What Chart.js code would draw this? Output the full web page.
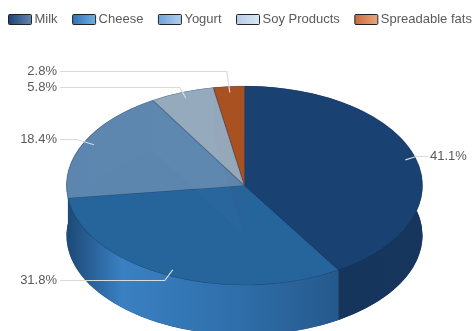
<!DOCTYPE html>
<html>
<head>
<meta charset="utf-8">
<style>
html,body{margin:0;padding:0;background:#fff}
#wrap{position:relative;width:476px;height:331px;overflow:hidden}
</style>
<script src="https://cdn.jsdelivr.net/npm/chart.js@4"></script>
</head>
<body>
<div id="wrap"><canvas id="c" width="476" height="331"></canvas></div>
<script>
const categories = ['Milk', 'Cheese', 'Yogurt', 'Soy Products', 'Spreadable fats'];
const shares = [41.1, 31.8, 18.4, 5.8, 2.8];

const faceColors = ['rgba(25,65,113,0.98)', 'rgba(39,101,157,0.98)', 'rgba(94,136,175,0.98)', 'rgba(150,170,190,0.98)', 'rgba(170,82,34,0.98)'];
const wallStops = [
  [[0, '#14335a'], [1, '#16365e']],
  [[0, '#1d4a78'], [0.2, '#3a80c2'], [0.6, '#2f70ac'], [1, '#25598c']],
  [[0, '#1d4a78'], [1, '#4d7aa4']],
  [[0, '#6d8299'], [1, '#7d92a8']],
  [[0, '#7c3d1a'], [1, '#8c4620']]
];
const legendStops = [
  ['#1c4374', '#6288b0'],
  ['#2f73b5', '#72ade0'],
  ['#6fa3d8', '#b0d0ee'],
  ['#b6cde6', '#d8e6f4'],
  ['#c96c3c', '#eaa67c']
];
const labelRows = [156, 280, 139, 87, 71];
const elbowRuns = [11, 8, 17, 6, 3];

const FONT = '13px "Liberation Sans", Arial, sans-serif';
const TEXT = '#5a5a5a';
const LEADER = '#dadada';

// Squashes the flat pie into an ellipse and extrudes it downwards.
const tiltedPie = {
  id: 'tiltedPie',
  beforeDatasetsDraw(chart, args, opts) {
    const arcs = chart.getDatasetMeta(0).data;
    const { ctx } = chart;
    const first = arcs[0];
    const cx = first.x, cy = first.y, R = first.outerRadius;
    ctx.save();
    arcs.forEach((arc, i) => {
      // floor of the slice, faintly visible through the translucent lid
      ctx.beginPath();
      ctx.moveTo(cx, cy + opts.depth);
      ctx.ellipse(cx, cy + opts.depth, opts.rx, opts.ry, 0, arc.startAngle, arc.endAngle);
      ctx.closePath();
      ctx.fillStyle = wallStops[i][0][1];
      ctx.fill();
    });
    arcs.forEach((arc, i) => {
      // curved outer wall of the slice
      const g = ctx.createLinearGradient(
        cx + opts.rx * Math.min(Math.cos(arc.startAngle), Math.cos(arc.endAngle), arc.endAngle > Math.PI && arc.startAngle < Math.PI ? -1 : 1), 0,
        cx + opts.rx * Math.max(Math.cos(arc.startAngle), Math.cos(arc.endAngle), arc.startAngle < 0 && arc.endAngle > 0 ? 1 : -1), 0);
      wallStops[i].forEach(s => g.addColorStop(s[0], s[1]));
      ctx.beginPath();
      ctx.ellipse(cx, cy, opts.rx, opts.ry, 0, arc.startAngle, arc.endAngle);
      ctx.ellipse(cx, cy + opts.depth, opts.rx, opts.ry, 0, arc.endAngle, arc.startAngle, true);
      ctx.closePath();
      ctx.fillStyle = g;
      ctx.fill();
    });
    ctx.restore();
    // the library's arcs are drawn under this transform
    ctx.save();
    ctx.translate(cx, cy);
    ctx.scale(opts.rx / R, opts.ry / R);
    ctx.translate(-cx, -cy);
  },
  afterDatasetsDraw(chart, args, opts) {
    const { ctx } = chart;
    ctx.restore();
    const arcs = chart.getDatasetMeta(0).data;
    ctx.save();
    ctx.font = FONT;
    ctx.textBaseline = 'middle';
    arcs.forEach((arc, i) => {
      const mid = (arc.startAngle + arc.endAngle) / 2;
      const ax = arc.x + Math.cos(mid) * opts.rx * 0.94;
      const ay = arc.y + Math.sin(mid) * opts.ry * 0.94;
      const onRight = Math.cos(mid) > 0;
      const row = labelRows[i];
      const textX = onRight ? 430 : 57;
      ctx.strokeStyle = LEADER;
      ctx.lineWidth = 1.2;
      ctx.beginPath();
      ctx.moveTo(ax, ay);
      ctx.lineTo(ax + (onRight ? elbowRuns[i] : -elbowRuns[i]), row + 0.5);
      ctx.lineTo(onRight ? textX - 2 : textX + 3, row + 0.5);
      ctx.stroke();
      ctx.fillStyle = TEXT;
      ctx.textAlign = onRight ? 'left' : 'right';
      ctx.fillText(shares[i].toFixed(1) + '%', textX, row);
    });
    ctx.restore();
  },
  afterDraw(chart) {
    const { ctx } = chart;
    ctx.save();
    ctx.font = FONT;
    ctx.textBaseline = 'middle';
    ctx.textAlign = 'left';
    let x = 8.5;
    chart.data.labels.forEach((name, i) => {
      const g = ctx.createLinearGradient(x, 0, x + 23, 0);
      g.addColorStop(0, legendStops[i][0]);
      g.addColorStop(1, legendStops[i][1]);
      ctx.beginPath();
      ctx.roundRect(x, 14.5, 23, 10, 1);
      ctx.fillStyle = g;
      ctx.fill();
      ctx.strokeStyle = '#1f2328';
      ctx.lineWidth = 1;
      ctx.stroke();
      ctx.fillStyle = TEXT;
      ctx.fillText(name, x + 26, 19.5);
      x += 23 + 3 + ctx.measureText(name).width + 15;
    });
    ctx.restore();
  }
};

new Chart(document.getElementById('c'), {
  type: 'pie',
  data: {
    labels: categories,
    datasets: [{
      data: shares,
      backgroundColor: faceColors,
      borderColor: 'rgba(18,48,84,0.25)',
      borderWidth: 1,
      clip: false
    }]
  },
  plugins: [tiltedPie],
  options: {
    responsive: false,
    animation: false,
    layout: { padding: { left: 13, top: 40 } },
    events: [],
    plugins: {
      legend: { display: false },
      tooltip: { enabled: false },
      tiltedPie: { rx: 178, ry: 99.5, depth: 50 }
    }
  }
});
</script>
</body>
</html>
